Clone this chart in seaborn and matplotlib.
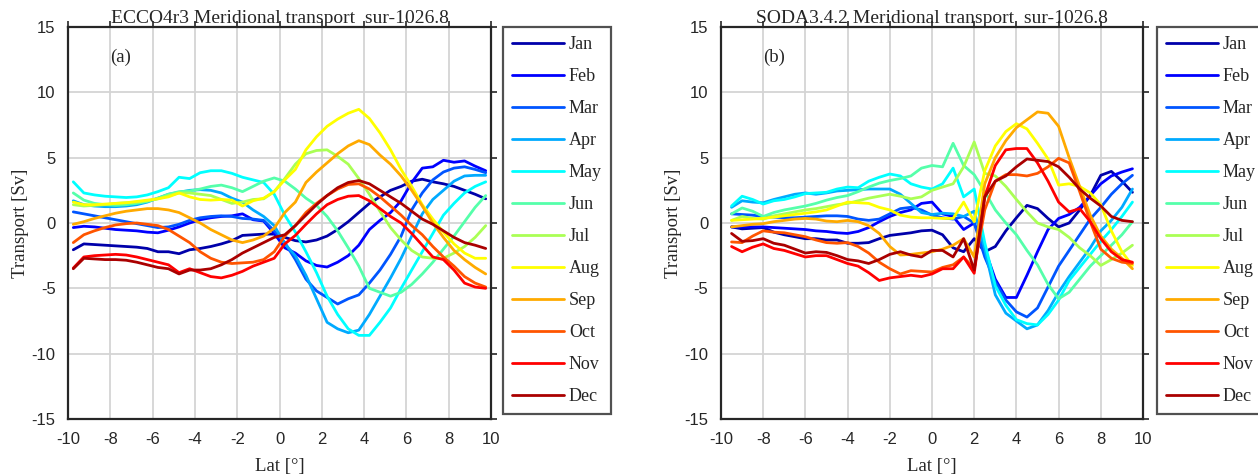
import numpy as np
import pandas as pd
import seaborn as sns
import matplotlib.pyplot as plt
from matplotlib.ticker import MultipleLocator

months = ["Jan", "Feb", "Mar", "Apr", "May", "Jun",
          "Jul", "Aug", "Sep", "Oct", "Nov", "Dec"]

# MATLAB jet(12)
month_colors = [(0, 0, 2/3), (0, 0, 1), (0, 1/3, 1), (0, 2/3, 1),
                (0, 1, 1), (1/3, 1, 2/3), (2/3, 1, 1/3), (1, 1, 0),
                (1, 2/3, 0), (1, 1/3, 0), (1, 0, 0), (2/3, 0, 0)]

# ---------------- ECCO4r3 (latitudes -9.75 .. 9.75, 0.5 deg) ----------------
lat_ecco = np.arange(-9.75, 9.76, 0.5)

ecco_jan = [-2.05, -1.6, -1.65, -1.7, -1.75, -1.8, -1.85, -1.95, -2.2, -2.2,
            -2.35, -2.05, -1.95, -1.8, -1.6, -1.35, -0.95, -0.9, -0.85, -0.85,
            -1.1, -1.35, -1.45, -1.3, -1.0, -0.5, 0.1, 0.8, 1.5, 2.0,
            2.5, 2.8, 3.2, 3.35, 3.15, 3.0, 2.8, 2.5, 2.2, 1.85]
ecco_feb = [-0.35, -0.25, -0.3, -0.4, -0.5, -0.55, -0.6, -0.7, -0.75, -0.55,
            -0.3, 0.0, 0.25, 0.4, 0.5, 0.55, 0.7, 0.25, 0.15, -0.8,
            -1.9, -2.3, -2.9, -3.25, -3.37, -3.0, -2.5, -1.7, -0.5, 0.2,
            0.8, 1.7, 3.1, 4.2, 4.3, 4.8, 4.65, 4.75, 4.35, 4.0]
ecco_mar = [0.85, 0.7, 0.55, 0.4, 0.25, 0.1, -0.05, -0.2, -0.35, -0.3,
            -0.1, 0.2, 0.4, 0.5, 0.55, 0.5, 0.35, 0.3, 0.2, -0.6,
            -1.5, -2.8, -4.3, -5.2, -5.7, -6.2, -5.8, -5.5, -4.6, -3.6,
            -2.4, -1.0, 1.0, 2.3, 3.3, 3.9, 4.2, 4.3, 4.1, 3.85]
ecco_apr = [1.7, 1.4, 1.3, 1.25, 1.25, 1.3, 1.4, 1.6, 1.9, 2.2,
            2.35, 2.5, 2.55, 2.5, 2.3, 1.9, 1.6, 1.0, 0.5, -0.2,
            -1.6, -2.5, -4.0, -5.8, -7.6, -8.1, -8.4, -8.2, -7.0, -5.6,
            -4.2, -2.7, -1.0, 0.7, 1.8, 2.5, 3.2, 3.6, 3.65, 3.65]
ecco_may = [3.15, 2.3, 2.15, 2.05, 2.0, 1.95, 2.0, 2.15, 2.4, 2.7,
            3.5, 3.4, 3.85, 4.0, 4.0, 3.8, 3.5, 3.3, 3.1, 2.2,
            0.6, -0.7, -2.2, -3.8, -5.6, -7.0, -8.1, -8.6, -8.6, -7.6,
            -6.5, -5.0, -3.6, -2.2, -0.8, 0.6, 1.5, 2.3, 2.8, 3.15]
ecco_jun = [2.3, 1.75, 1.5, 1.4, 1.35, 1.4, 1.5, 1.65, 1.9, 2.2,
            2.4, 2.45, 2.6, 2.8, 2.9, 2.7, 2.4, 2.8, 3.2, 3.45,
            3.2, 2.6, 1.9, 1.35, 0.5, -0.6, -1.9, -3.3, -5.0, -5.3,
            -5.6, -5.3, -4.7, -3.9, -3.0, -2.0, -1.0, 0.1, 1.2, 2.1]
ecco_jul = [1.4, 1.3, 1.35, 1.4, 1.5, 1.55, 1.6, 1.7, 1.85, 2.1,
            2.3, 2.3, 2.2, 2.1, 1.8, 1.5, 1.6, 1.8, 1.85, 2.4,
            3.4, 4.5, 5.3, 5.55, 5.6, 5.1, 4.5, 3.4, 2.2, 0.9,
            -0.35, -1.3, -2.1, -2.6, -2.7, -2.7, -2.3, -1.8, -1.1, -0.2]
ecco_aug = [1.6, 1.4, 1.4, 1.45, 1.5, 1.55, 1.65, 1.75, 1.85, 2.0,
            2.3, 2.0, 1.8, 1.75, 1.8, 1.75, 1.3, 1.7, 1.9, 2.4,
            3.3, 4.1, 5.6, 6.6, 7.4, 7.95, 8.4, 8.7, 8.0, 6.9,
            5.6, 4.1, 2.8, 1.4, 0.3, -0.7, -1.6, -2.3, -2.7, -2.7]
ecco_sep = [-0.1, 0.1, 0.35, 0.55, 0.75, 0.9, 1.0, 1.1, 1.1, 1.0,
            0.8, 0.4, 0.0, -0.5, -0.9, -1.3, -1.5, -1.3, -1.0, -0.4,
            0.8, 1.6, 3.1, 3.9, 4.6, 5.3, 5.9, 6.3, 6.0, 5.2,
            4.5, 3.6, 2.5, 1.3, 0.0, -1.1, -2.1, -2.8, -3.4, -3.9]
ecco_oct = [-1.5, -0.9, -0.6, -0.35, -0.15, -0.05, 0.0, -0.1, -0.2, -0.5,
            -1.0, -1.5, -2.2, -2.7, -3.0, -3.1, -3.05, -3.0, -2.8, -2.2,
            -1.0, -0.2, 0.8, 1.5, 2.1, 2.6, 2.95, 3.0, 2.6, 2.0,
            1.3, 0.6, -0.2, -0.9, -1.8, -2.6, -3.3, -4.1, -4.6, -4.9]
ecco_nov = [-3.45, -2.6, -2.5, -2.45, -2.4, -2.45, -2.6, -2.8, -3.0, -3.2,
            -3.8, -3.5, -3.8, -4.1, -4.2, -4.0, -3.7, -3.3, -3.0, -2.7,
            -1.6, -0.95, -0.1, 0.7, 1.4, 1.8, 2.05, 2.1, 1.7, 1.1,
            0.5, 0.0, -0.8, -1.7, -2.6, -2.8, -3.6, -4.6, -4.9, -5.0]
ecco_dec = [-3.5, -2.7, -2.75, -2.8, -2.8, -2.85, -3.0, -3.2, -3.4, -3.5,
            -3.9, -3.6, -3.6, -3.5, -3.2, -2.8, -2.3, -1.9, -1.5, -1.1,
            -0.9, -0.2, 0.6, 1.4, 2.1, 2.7, 3.1, 3.25, 3.0, 2.5,
            2.0, 1.5, 0.9, 0.3, -0.1, -0.6, -1.1, -1.5, -1.7, -1.95]

# ---------------- SODA3.4.2 (latitudes -9.5 .. 9.5, 0.5 deg) ----------------
lat_soda = np.arange(-9.5, 9.51, 0.5)

soda_jan = [-0.3, -0.45, -0.4, -0.35, -0.7, -0.9, -1.05, -1.2, -1.2, -1.3,
            -1.3, -1.55, -1.55, -1.5, -1.2, -0.95, -0.85, -0.75, -0.6, -0.55,
            -0.9, -1.9, -2.2, -1.2, -2.2, -1.8, -0.6, 0.4, 1.35, 1.1,
            0.35, -0.3, 0.0, 1.0, 2.1, 3.65, 3.95, 3.2, 2.35]
soda_feb = [-0.3, -0.3, -0.3, -0.3, -0.35, -0.4, -0.45, -0.5, -0.6, -0.65,
            -0.75, -0.8, -0.65, -0.35, 0.1, 0.5, 0.8, 1.0, 1.5, 1.6,
            0.7, 0.5, -0.5, 0.0, -2.0, -4.3, -5.7, -5.7, -4.0, -2.2,
            -0.5, 0.35, 0.65, 1.2, 2.1, 3.0, 3.6, 3.9, 4.15]
soda_mar = [0.7, 0.65, 0.6, 0.5, 0.45, 0.4, 0.4, 0.45, 0.5, 0.55,
            0.55, 0.5, 0.3, 0.2, 0.3, 0.7, 1.1, 1.2, 1.0, 0.6,
            0.4, 0.3, 0.5, 0.0, -2.6, -4.5, -5.9, -6.8, -7.2, -6.5,
            -4.9, -3.3, -2.1, -0.9, 0.3, 1.2, 2.2, 3.0, 3.65]
soda_apr = [1.2, 1.7, 1.6, 1.55, 1.8, 2.0, 2.2, 2.3, 2.2, 2.3,
            2.45, 2.5, 2.55, 2.6, 2.6, 2.6, 2.2, 1.5, 0.8, 0.65,
            0.75, 0.7, 0.5, 0.9, -2.0, -5.5, -6.9, -7.5, -8.1, -7.8,
            -6.7, -5.3, -4.1, -3.0, -1.9, -0.6, 0.2, 1.2, 2.6]
soda_may = [1.3, 2.05, 1.8, 1.45, 1.7, 1.8, 2.0, 2.25, 2.3, 2.35,
            2.6, 2.75, 2.7, 3.2, 3.5, 3.75, 3.6, 3.0, 2.75, 2.6,
            3.0, 4.2, 2.0, 2.6, -1.5, -4.8, -6.3, -7.4, -7.7, -7.8,
            -7.0, -5.9, -4.4, -3.4, -2.4, -1.4, -0.5, 0.5, 1.6]
soda_jun = [0.7, 1.15, 0.9, 0.5, 0.8, 1.0, 1.15, 1.3, 1.5, 1.75,
            1.95, 2.1, 2.4, 2.75, 3.05, 3.25, 3.4, 3.6, 4.2, 4.4,
            4.3, 6.1, 4.4, 3.7, 2.4, 1.0, 0.0, -0.9, -2.1, -3.2,
            -4.7, -5.8, -5.3, -4.3, -3.3, -2.5, -1.7, -0.9, 0.1]
soda_jul = [0.2, 0.5, 0.35, 0.3, 0.55, 0.7, 0.85, 1.0, 1.1, 1.25,
            1.4, 1.5, 1.7, 1.9, 2.05, 2.2, 2.05, 1.85, 2.0, 2.5,
            2.75, 3.0, 4.3, 6.2, 3.8, 3.6, 2.8, 1.8, 0.85, 0.0,
            -0.3, -0.5, -1.1, -1.9, -2.5, -3.25, -2.8, -2.3, -1.7]
soda_aug = [0.2, 0.25, 0.3, 0.35, 0.45, 0.55, 0.65, 0.75, 0.85, 1.0,
            1.3, 1.6, 1.55, 1.5, 1.2, 1.0, 0.6, 0.45, 0.4, 0.4,
            0.35, 0.35, 1.6, 0.1, 4.0, 5.9, 7.0, 7.6, 7.2, 6.1,
            4.9, 2.9, 3.0, 2.8, 2.3, 1.4, -0.6, -2.2, -3.25]
soda_sep = [-0.3, -0.2, -0.1, -0.05, 0.1, 0.2, 0.3, 0.35, 0.3, 0.15,
            0.1, 0.2, 0.1, -0.2, -0.8, -1.8, -2.45, -2.4, -2.3, -2.2,
            -2.0, -1.7, -1.2, -2.6, 3.0, 5.0, 6.3, 7.3, 7.9, 8.5,
            8.4, 7.4, 5.0, 2.8, 0.6, -1.0, -2.0, -2.7, -3.5]
soda_oct = [-1.45, -1.5, -1.0, -0.6, -0.7, -0.75, -0.9, -1.05, -1.3, -1.5,
            -1.55, -1.5, -1.8, -2.3, -3.0, -3.5, -3.9, -3.65, -3.7, -3.75,
            -3.4, -3.2, -2.6, -3.5, 1.0, 3.2, 3.7, 3.7, 3.6, 3.8,
            4.3, 4.95, 4.6, 2.4, 0.1, -2.0, -2.7, -3.0, -3.1]
soda_nov = [-1.8, -2.2, -1.85, -1.6, -1.95, -2.1, -2.35, -2.6, -2.5, -2.5,
            -2.8, -3.1, -3.3, -3.8, -4.4, -4.2, -4.1, -4.0, -4.1, -3.9,
            -3.5, -3.5, -2.6, -3.85, 2.0, 4.4, 5.6, 5.7, 5.7, 4.6,
            3.2, 1.6, 0.85, 1.1, 0.1, -1.2, -2.2, -2.8, -3.0]
soda_dec = [-0.8, -1.4, -1.35, -1.2, -1.55, -1.7, -2.0, -2.3, -2.2, -2.25,
            -2.5, -2.8, -2.9, -3.1, -2.8, -2.4, -2.2, -2.45, -2.6, -2.1,
            -2.1, -2.6, -1.2, -3.6, 2.0, 3.2, 3.6, 4.3, 4.9, 4.8,
            4.7, 4.3, 3.5, 2.6, 1.9, 1.3, 0.5, 0.2, 0.1]

ecco_series = [ecco_jan, ecco_feb, ecco_mar, ecco_apr, ecco_may, ecco_jun,
               ecco_jul, ecco_aug, ecco_sep, ecco_oct, ecco_nov, ecco_dec]
soda_series = [soda_jan, soda_feb, soda_mar, soda_apr, soda_may, soda_jun,
               soda_jul, soda_aug, soda_sep, soda_oct, soda_nov, soda_dec]


def long_frame(lat, series):
    rows = []
    for m, vals in zip(months, series):
        rows.append(pd.DataFrame({"lat": lat, "transport": vals, "month": m}))
    return pd.concat(rows, ignore_index=True)


df_ecco = long_frame(lat_ecco, ecco_series)
df_soda = long_frame(lat_soda, soda_series)

sns.set_theme(style="white")
plt.rcParams["font.family"] = ["Liberation Sans", "DejaVu Sans"]
plt.rcParams["axes.unicode_minus"] = False
serif = ["Liberation Serif", "DejaVu Serif"]

W, H = 1258, 476
fig = plt.figure(figsize=(W / 100, H / 100), dpi=100)

panels = [
    (df_ecco, "ECCO4r3 Meridional transport  sur-1026.8", "(a)", 68, 491, 503),
    (df_soda, "SODA3.4.2 Meridional transport  sur-1026.8", "(b)", 721, 1143, 1157),
]

for df, title, tag, x0, x1, leg_x in panels:
    ax = fig.add_axes([x0 / W, 1 - 419 / H, (x1 - x0) / W, (419 - 27) / H])
    sns.lineplot(data=df, x="lat", y="transport", hue="month",
                 hue_order=months, palette=month_colors, linewidth=2.0,
                 legend=False, ax=ax, sort=False)
    ax.set_xlim(-10, 10)
    ax.set_ylim(-15, 15)
    ax.xaxis.set_major_locator(MultipleLocator(2))
    ax.yaxis.set_major_locator(MultipleLocator(5))
    ax.grid(True, color="#d4d4d4", linewidth=1.3)
    ax.set_axisbelow(True)
    for s in ax.spines.values():
        s.set_color("#262626")
        s.set_linewidth(1.6)
    ax.tick_params(direction="out", length=4, width=1.2, colors="#262626",
                   labelsize=12, top=True, right=True,
                   labeltop=False, labelright=False, pad=5)
    ax.set_title(title, fontsize=14, family=serif, pad=3)
    ax.set_xlabel("Lat [°]", fontsize=13.5, family=serif, labelpad=8)
    ax.set_ylabel("Transport [Sv]", fontsize=13.5, family=serif)
    ax.yaxis.set_label_coords(-0.092, 0.5)
    ax.text(-8.0, 12.7, tag, fontsize=13.5, family=serif, va="center",
            ha="left")
    leg = ax.legend(handles=ax.lines[:12], labels=months, loc="upper left",
                    bbox_to_anchor=(leg_x / W, 1 - 27 / H),
                    bbox_transform=fig.transFigure, frameon=True,
                    fancybox=False, handlelength=2.9, handletextpad=0.25,
                    labelspacing=0.83, borderpad=0.5, borderaxespad=0,
                    prop={"family": serif, "size": 13})
    leg.get_frame().set_edgecolor("#262626")
    leg.get_frame().set_linewidth(1.6)
    for h in leg.get_lines():
        h.set_linewidth(2.0)

fig.savefig("out.png", dpi=100)
